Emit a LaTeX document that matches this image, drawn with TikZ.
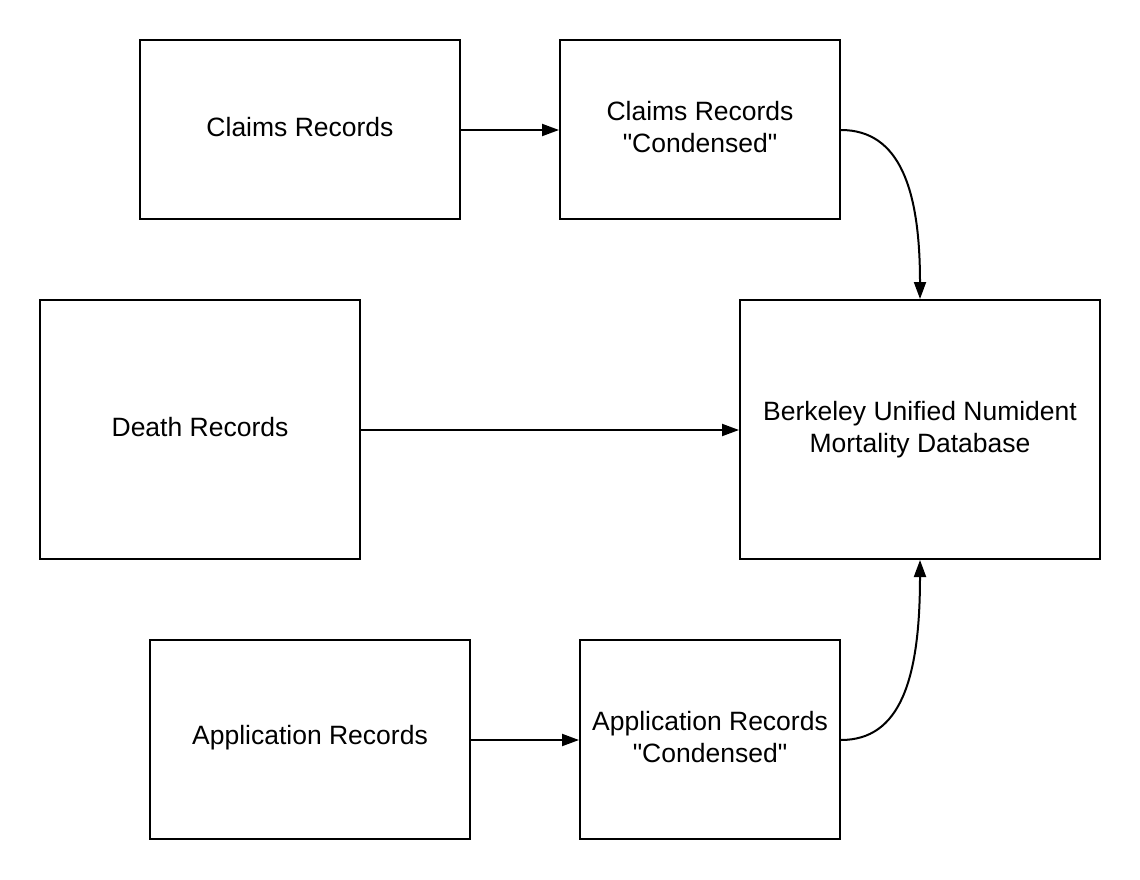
\documentclass[tikz,border=0pt]{standalone}
\usepackage{fontspec}
\setmainfont{Liberation Sans}[Ligatures=TeXOff]
\usetikzlibrary{arrows.meta}
\begin{document}
\begin{tikzpicture}[x=1pt,y=-1pt,
  box/.style={draw, line width=2pt, inner sep=0pt, align=center, text depth=5pt,
    font=\fontsize{26.5}{32}\selectfont},
  conn/.style={line width=2pt, -{Triangle[length=17pt,width=12pt]}}]
\useasboundingbox[fill=white] (0,0) rectangle (1140,880);
\node[box, minimum width=320pt, minimum height=179pt] (claims) at (300,129.5) {Claims Records};
\node[box, minimum width=280pt, minimum height=179pt] (claimsc) at (700,129.5) {Claims Records\\"Condensed"};
\node[box, minimum width=320pt, minimum height=259pt] (death) at (200,429.5) {Death Records};
\node[box, minimum width=360pt, minimum height=259pt] (bunmd) at (920,429.5) {Berkeley Unified Numident\\Mortality Database};
\node[box, minimum width=320pt, minimum height=199pt, text depth=9pt] (app) at (310,739.5) {Application Records};
\node[box, minimum width=260pt, minimum height=199pt] (appc) at (710,739.5) {Application Records\\"Condensed"};
\draw[conn] (claims.east |- 0,130) -- (claimsc.west |- 0,130);
\draw[conn] (death.east |- 0,430) -- (bunmd.west |- 0,430);
\draw[conn] (app.east |- 0,740) -- (appc.west |- 0,740);
\draw[conn] (claimsc.east |- 0,130) .. controls (900,130) and (920,190) .. (bunmd.north);
\draw[conn] (appc.east |- 0,740) .. controls (900,740) and (920,680) .. (bunmd.south);
\end{tikzpicture}
\end{document}
